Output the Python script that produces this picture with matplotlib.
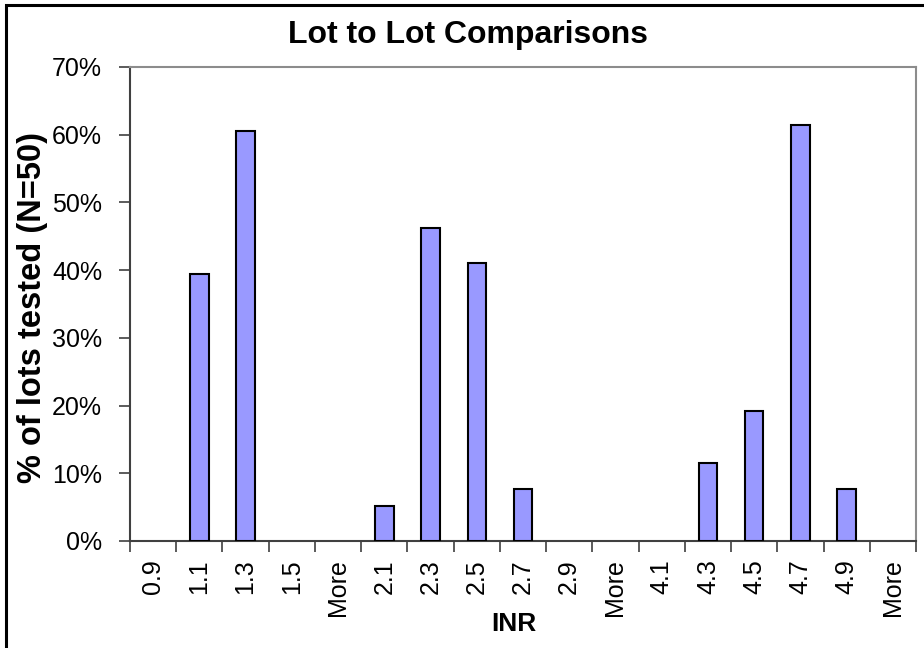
import numpy as np
import matplotlib
matplotlib.use('Agg')
import matplotlib.pyplot as plt
from matplotlib.patches import Rectangle
from matplotlib.ticker import FuncFormatter

# Data
inr_bins = ['0.9', '1.1', '1.3', '1.5', 'More',
            '2.1', '2.3', '2.5', '2.7', '2.9', 'More',
            '4.1', '4.3', '4.5', '4.7', '4.9', 'More']
pct_lots = [0.0, 39.5, 60.5, 0.0, 0.0,
            5.1, 46.2, 41.0, 7.7, 0.0, 0.0,
            0.0, 11.5, 19.2, 61.5, 7.7, 0.0]

plt.rcParams['font.family'] = ['Liberation Sans', 'DejaVu Sans']

fig = plt.figure(figsize=(9.24, 6.48), dpi=100)
ax = fig.add_axes([130 / 924, 107 / 648, 786 / 924, 474 / 648])

x = np.arange(len(inr_bins))
# empty bins get no outline so nothing sits on the axis
edge_w = [1.5 if v > 0 else 0 for v in pct_lots]
ax.bar(x, pct_lots, width=0.4, color='#9999ff', edgecolor='black', linewidth=edge_w, zorder=3)

ax.set_xlim(-0.5, len(inr_bins) - 0.5)
ax.set_ylim(0, 70)
ax.set_yticks(np.arange(0, 71, 10))
ax.yaxis.set_major_formatter(FuncFormatter(lambda v, p: f'{int(v)}%'))

# category labels in the middle, tick marks on the boundaries
ax.set_xticks(x)
ax.set_xticklabels(inr_bins, rotation=90, fontsize=18)
ax.tick_params(axis='x', which='major', length=0, pad=13)
ax.set_xticks(np.arange(-0.5, len(inr_bins)), minor=True)
ax.tick_params(axis='x', which='minor', length=8, width=1.2, color='#404040')
ax.tick_params(axis='y', labelsize=18, length=8, width=1.2, color='#404040', pad=12)

for side in ['top', 'right']:
    ax.spines[side].set_color('#8c8c8c')
    ax.spines[side].set_linewidth(1.5)
for side in ['left', 'bottom']:
    ax.spines[side].set_color('#404040')
    ax.spines[side].set_linewidth(1.5)

ax.set_xlabel('INR', fontsize=19, fontweight='bold')
ax.xaxis.set_label_coords((514 - 130) / 786, -(624 - 541) / 474)
ax.set_ylabel('% of lots tested (N=50)', fontsize=23.5, fontweight='bold')
ax.yaxis.set_label_coords((33 - 130) / 786, (541 - 308) / 474)
ax.yaxis.label.set_va('center')
ax.xaxis.label.set_va('center')
fig.text(468 / 924, 1 - 35 / 648, 'Lot to Lot Comparisons', fontsize=23, fontweight='bold',
         ha='center', va='center')

# outer chart border (cut off on the right and bottom)
fig.patches.append(Rectangle((6 / 924, -0.05), 1.1, 1 - 5 / 648 + 0.05, transform=fig.transFigure,
                             fill=False, edgecolor='black', linewidth=2.2))

fig.savefig('out.png', dpi=100)
